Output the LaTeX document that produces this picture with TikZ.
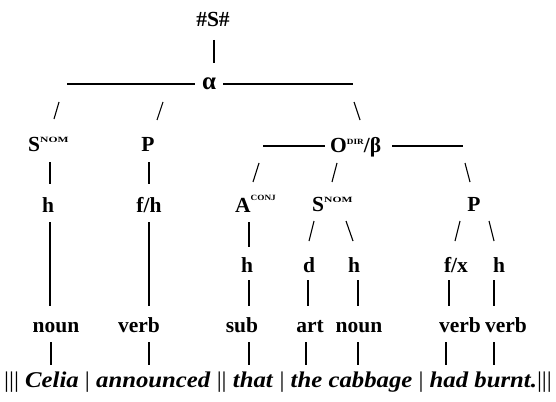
\documentclass[tikz,border=0pt]{standalone}
\usepackage{fontspec}
\setmainfont{Liberation Serif}
\usepackage{graphicx}
\newcommand\supx[3]{\raisebox{#1pt}{\scalebox{#2}[1]{\fontsize{8}{8}\selectfont\bfseries #3}}}
\newcommand\vb{\textup{\mdseries|}}
\newcommand\tick[5]{\coordinate (#1a) at (#2,#3); \coordinate (#1b) at (#4,#5); \draw[stroke] (#1a) -- (#1b);}
\begin{document}
\begin{tikzpicture}[x=1pt,y=-1pt,
  lab/.style={inner sep=0pt, anchor=base, font=\fontsize{21.5}{26}\selectfont\bfseries},
  labw/.style={lab, anchor=base west},
  stroke/.style={line width=1.1pt},
  hstroke/.style={line width=1.3pt}]
\useasboundingbox (0,0) rectangle (556,401);
% nodes
\node[lab] (top) at (213,27) {\#S\#};
\node[lab, font=\fontsize{25}{28}\selectfont\bfseries] (alpha) at (209,90) {α};
\node[labw] (snomA) at (28,151) {S\supx{9}{1.45}{NOM}};
\node[lab] (pA) at (148,151) {P};
\node[labw] (odir) at (330,152) {O\supx{8}{1.15}{DIR}/β};
\node[lab] (hA) at (48,212) {h};
\node[lab] (fh) at (149,212) {f/h};
\node[labw] (aconj) at (235,212) {A\supx{11.5}{1.15}{CONJ}};
\node[labw] (snomB) at (312,211) {S\supx{9}{1.45}{NOM}};
\node[lab] (pB) at (474,211) {P};
\node[lab] (hB) at (247,272) {h};
\node[lab] (dd) at (309,272) {d};
\node[lab] (hC) at (354,272) {h};
\node[lab] (fx) at (456,272) {f/x};
\node[lab] (hD) at (499,272) {h};
\node[lab] (noun1) at (56,332) {noun};
\node[lab] (verb1) at (139,332) {verb};
\node[lab] (sub) at (242,332) {sub};
\node[lab] (art) at (310,332) {art};
\node[lab] (noun2) at (359,332) {noun};
\node[lab] (verb2) at (460,332) {verb};
\node[lab] (verb3) at (506,332) {verb};
\node[lab, font=\fontsize{22.5}{25}\selectfont\bfseries\itshape] (sent) at (278,387)
  {\scalebox{1.1}[1]{\vb\vb\vb{} Celia \vb{} announced \vb\vb{} that \vb{} the cabbage \vb{} had burnt.\vb\vb\vb}};
% horizontal lines
\coordinate (al) at (67,84); \coordinate (alm) at (195,84);
\coordinate (arm) at (223,84); \coordinate (ar) at (353,84);
\draw[hstroke] (al) -- (alm);
\draw[hstroke] (arm) -- (ar);
\coordinate (ol) at (263,146); \coordinate (olm) at (325,146);
\coordinate (orm) at (392,146); \coordinate (or) at (463,146);
\draw[hstroke] (ol) -- (olm);
\draw[hstroke] (orm) -- (or);
% ticks
\tick{t1}{214}{40}{214}{63}
\tick{t2}{59}{102}{54}{119}
\tick{t3}{163}{102}{157}{120}
\tick{t4}{354}{102}{360}{120}
\tick{t5}{50}{162}{50}{184}
\tick{t6}{149}{162}{149}{184}
\tick{t7}{259}{163}{253}{182}
\tick{t8}{337}{163}{332}{182}
\tick{t9}{465}{163}{470}{182}
\tick{t10}{50}{222}{50}{306}
\tick{t11}{149}{222}{149}{306}
\tick{t12}{249}{222}{249}{247}
\tick{t13}{314}{221}{309}{241}
\tick{t14}{346}{221}{353}{241}
\tick{t15}{460}{221}{455}{241}
\tick{t16}{489}{221}{494}{241}
\tick{t17}{249}{280}{249}{306}
\tick{t18}{308}{280}{308}{306}
\tick{t19}{358}{280}{358}{306}
\tick{t20}{449}{280}{449}{306}
\tick{t21}{494}{280}{494}{306}
\tick{t22}{51}{342}{51}{365}
\tick{t23}{149}{342}{149}{365}
\tick{t24}{249}{342}{249}{365}
\tick{t25}{306}{342}{306}{365}
\tick{t26}{358}{342}{358}{365}
\tick{t27}{446}{342}{446}{365}
\tick{t28}{494}{342}{494}{365}
\end{tikzpicture}
\end{document}
